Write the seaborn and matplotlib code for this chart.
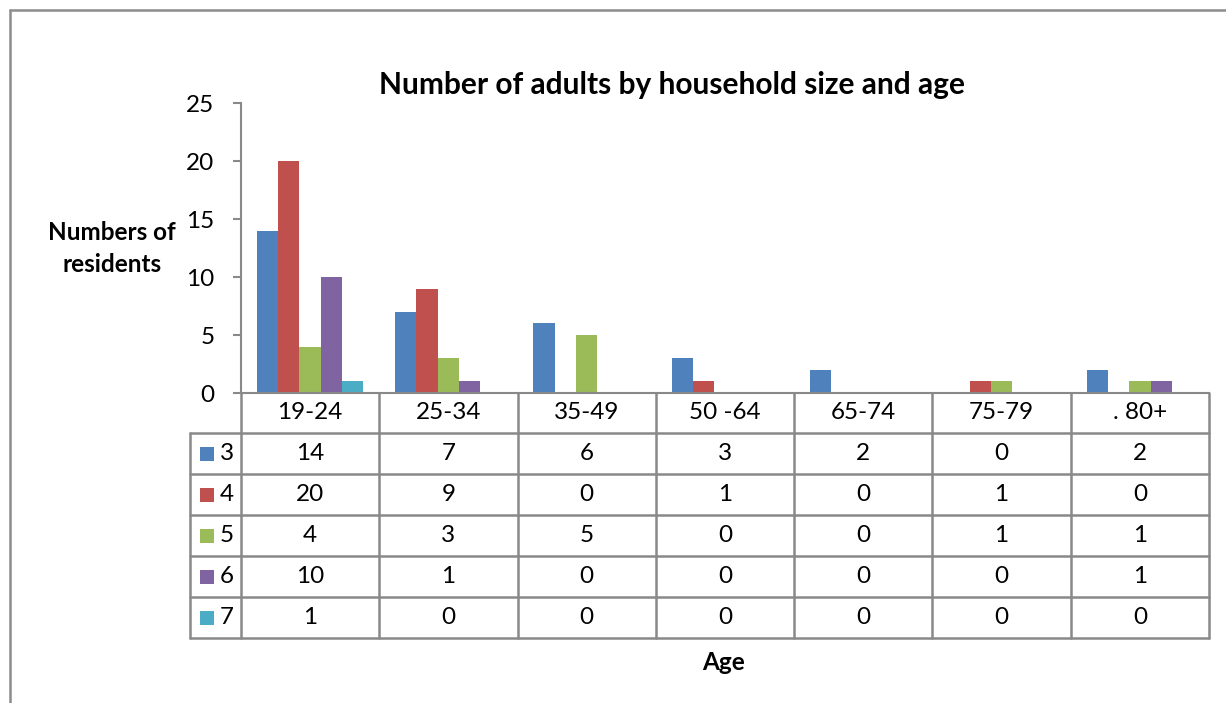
import matplotlib
matplotlib.use("Agg")
import matplotlib.pyplot as plt
import matplotlib.transforms as mtransforms
from matplotlib.lines import Line2D
from matplotlib.patches import Rectangle
import seaborn as sns
import pandas as pd

# Age bands and household-size series
ages = ["19-24", "25-34", "35-49", "50 -64", "65-74", "75-79", ". 80+"]
sizes = ["3", "4", "5", "6", "7"]
size3 = [14, 7, 6, 3, 2, 0, 2]
size4 = [20, 9, 0, 1, 0, 1, 0]
size5 = [4, 3, 5, 0, 0, 1, 1]
size6 = [10, 1, 0, 0, 0, 0, 1]
size7 = [1, 0, 0, 0, 0, 0, 0]
series = [size3, size4, size5, size6, size7]
colors = ["#4F81BD", "#C0504D", "#9BBB59", "#8064A2", "#4BACC6"]

yticks = [0, 5, 10, 15, 20, 25]

rows = []
for s, vals in zip(sizes, series):
    for a, v in zip(ages, vals):
        rows.append({"Age": a, "Size": s, "Count": v})
df = pd.DataFrame(rows)

sns.set_theme(style="white")
plt.rcParams["font.family"] = ["Lato", "DejaVu Sans"]

W, H = 1226, 703
fig = plt.figure(figsize=(W / 100, H / 100), dpi=100)
fig.patch.set_facecolor("white")

def fx(px):
    return px / W

def fy(py):
    return 1 - py / H

FS = 17.5
ax_l, ax_r, ax_t, ax_b = 241, 1209, 103, 393
ax = fig.add_axes([fx(ax_l), fy(ax_b), fx(ax_r - ax_l), (ax_b - ax_t) / H])

sns.barplot(data=df, x="Age", y="Count", hue="Size", order=ages, hue_order=sizes,
            palette=colors, width=0.77, gap=0, saturation=1, linewidth=0,
            legend=False, ax=ax)

grey = "#898989"
ax.set_xlim(-0.5, len(ages) - 0.5)
ax.set_ylim(0, 25)
ax.set_yticks(yticks)
ax.set_yticklabels([str(t) for t in yticks], fontsize=FS, color="black")
ax.set_xticks([])
ax.set_xlabel("")
ax.set_ylabel("")
ax.tick_params(axis="y", length=6, width=1.5, color=grey, pad=13, left=True)
for side in ["top", "right"]:
    ax.spines[side].set_visible(False)
for side in ["left", "bottom"]:
    ax.spines[side].set_color(grey)
    ax.spines[side].set_linewidth(1.5)
ax.set_facecolor("white")

# Data table beneath the plot, columns aligned with the categories
tr = mtransforms.blended_transform_factory(ax.transData, fig.transFigure)
cat_w = (ax_r - ax_l) / len(ages)
leg_left = -0.5 - (ax_l - 190) / cat_w
x_right = len(ages) - 0.5
header_top, header_bot = 393, 433
row_h = 41
row_edges = [header_bot + i * row_h for i in range(len(sizes) + 1)]
table_bot = row_edges[-1]
lw = 1.8

def hline(x0, x1, py):
    fig.add_artist(Line2D([x0, x1], [fy(py), fy(py)], transform=tr, color=grey, lw=lw))

def vline(x, py0, py1):
    fig.add_artist(Line2D([x, x], [fy(py0), fy(py1)], transform=tr, color=grey, lw=lw))

for py in row_edges:
    hline(leg_left, x_right, py)
for i in range(len(ages) + 1):
    vline(-0.5 + i, header_top, table_bot)
vline(leg_left, header_bot, table_bot)

for i, a in enumerate(ages):
    fig.text(i, fy((header_top + header_bot) / 2), a, transform=tr,
             ha="center", va="center", fontsize=FS, color="black")

for r, (s, vals, c) in enumerate(zip(sizes, series, colors)):
    cy = (row_edges[r] + row_edges[r + 1]) / 2
    sq = 14
    fig.add_artist(Rectangle((fx(200), fy(cy + sq / 2)), fx(sq), sq / H,
                             transform=fig.transFigure, facecolor=c, edgecolor="none"))
    fig.text(fx(220), fy(cy), s, ha="left", va="center", fontsize=FS, color="black")
    for i, v in enumerate(vals):
        fig.text(i, fy(cy), str(v), transform=tr, ha="center", va="center",
                 fontsize=FS, color="black")

# Titles
fig.text(fx(672), fy(85), "Number of adults by household size and age",
         ha="center", va="center", fontsize=21.5, fontweight="bold", color="black")
fig.text(fx(112), fy(232), "Numbers of", ha="center", va="center",
         fontsize=FS, fontweight="bold", color="black")
fig.text(fx(112), fy(265), "residents", ha="center", va="center",
         fontsize=FS, fontweight="bold", color="black")
fig.text(fx(724), fy(662), "Age", ha="center", va="center",
         fontsize=FS, fontweight="bold", color="black")

# Chart-area frame (top and left edges)
fig.add_artist(Line2D([fx(10), fx(10)], [fy(10), 0], transform=fig.transFigure,
                      color="#8c8c8c", lw=1.8))
fig.add_artist(Line2D([fx(10), 1], [fy(10), fy(10)], transform=fig.transFigure,
                      color="#8c8c8c", lw=1.8))

fig.savefig("out.png", dpi=100, facecolor="white")
